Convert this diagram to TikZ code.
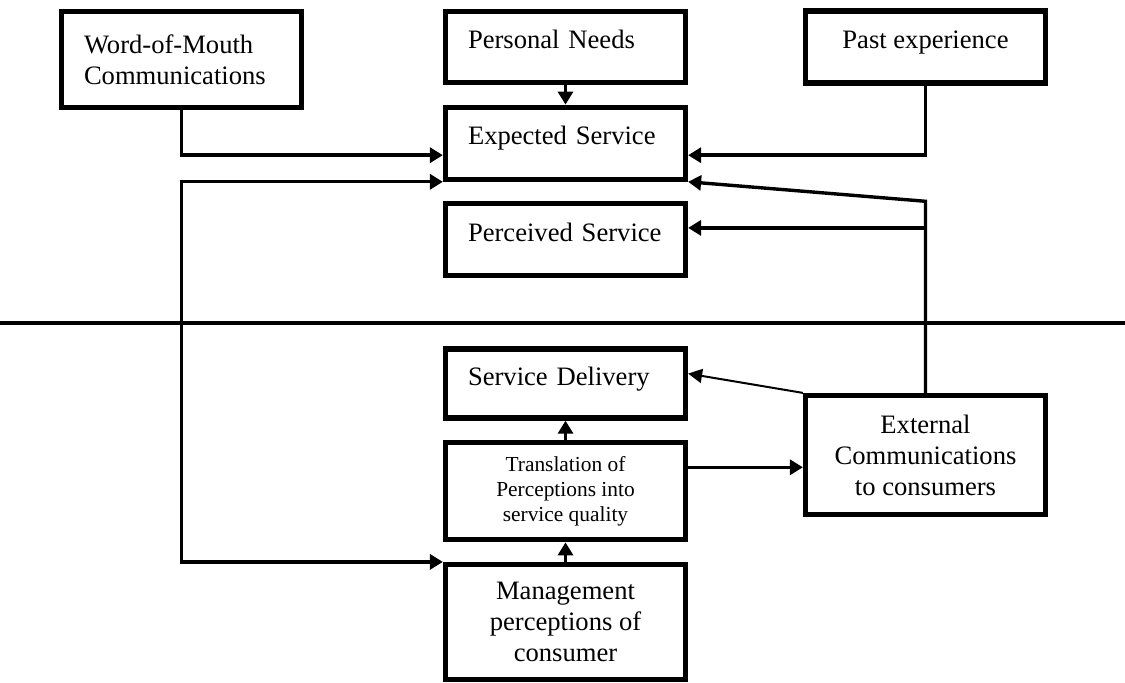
\documentclass[tikz,border=0pt]{standalone}
\usepackage{fontspec}
\setmainfont{Liberation Serif}
\usetikzlibrary{arrows.meta,positioning}
\tikzset{
  box/.style={draw, line width=2.6pt, minimum width=120pt, inner sep=0pt, font=\fontsize{13.3}{15.5}\selectfont},
  lbox/.style={box, align=left, text width=97.5pt, inner xsep=11.25pt},
  cbox/.style={box, align=center},
  raised/.style={text height=9.5pt, text depth=8pt},
  smalltext/.style={font=\fontsize{10.7}{12.5}\selectfont},
  arrow/.style={-{Triangle[length=6.5pt,width=7.5pt]}, line width=1.7pt},
  thinarrow/.style={-{Triangle[length=7pt,width=7pt]}, line width=1pt},
  biarrow/.style={{Triangle[length=6.5pt,width=7.5pt]}-{Triangle[length=6.5pt,width=7.5pt]}, line width=1.7pt},
  divider/.style={line width=2pt}
}
\begin{document}
\begin{tikzpicture}[x=0.5pt, y=-0.5pt, node distance=9.75pt]
  \useasboundingbox (0,0) rectangle (1125,683);
  \node[lbox, raised, minimum height=35.5pt] (needs) at (565.5,47) {Personal Needs};
  \node[lbox, raised, minimum height=36pt, below=of needs] (expected) {Expected Service};
  \node[lbox, raised, minimum height=36pt, below=of expected] (perceived) {Perceived Service};
  \node[lbox, raised, minimum height=34.5pt, below=34pt of perceived] (delivery) {Service Delivery};
  \node[cbox, smalltext, minimum height=48.5pt, below=of delivery] (transl) {Translation of\\Perceptions into\\service quality};
  \node[cbox, minimum height=57.5pt, below=of transl] (mgmt) {Management\\perceptions of\\consumer};
  \node[lbox, minimum height=48pt] (wom) at (181.5,59.5) {Word-of-Mouth\\Communications};
  \node[cbox, raised, minimum height=36pt, right=57.4pt of needs] (past) {Past experience};
  \node[cbox, minimum height=59.5pt] (ext) at (925.5,455) {External\\Communications\\to consumers};

  \coordinate (win) at ([yshift=-6pt]expected.west);
  \coordinate (ein) at ([yshift=-6pt]expected.east);
  \coordinate (pin) at ([yshift=6pt]perceived.east);
  \coordinate (din) at ([yshift=5pt]delivery.east);
  \coordinate (tout) at ([yshift=12pt]transl.east);
  \coordinate (jn) at (ext.north |- perceived.north);

  \draw[divider] (0,323) -- (1125,323);
  \draw[arrow] (needs) -- (expected);
  \draw[arrow] (wom.south) |- (win);
  \draw[arrow] (past.south) |- (ein);
  \draw[biarrow] (expected.south west) -| (wom.south |- mgmt.north) -- (mgmt.north west);
  \draw[arrow] (ext.north) -- (jn) -- (expected.south east);
  \draw[arrow] (ext.north |- pin) -- (pin);
  \draw[thinarrow] (ext.north west) -- (din);
  \draw[arrow] (transl) -- (delivery);
  \draw[arrow] (mgmt) -- (transl);
  \draw[arrow] (tout) -- (tout -| ext.west);
\end{tikzpicture}
\end{document}
